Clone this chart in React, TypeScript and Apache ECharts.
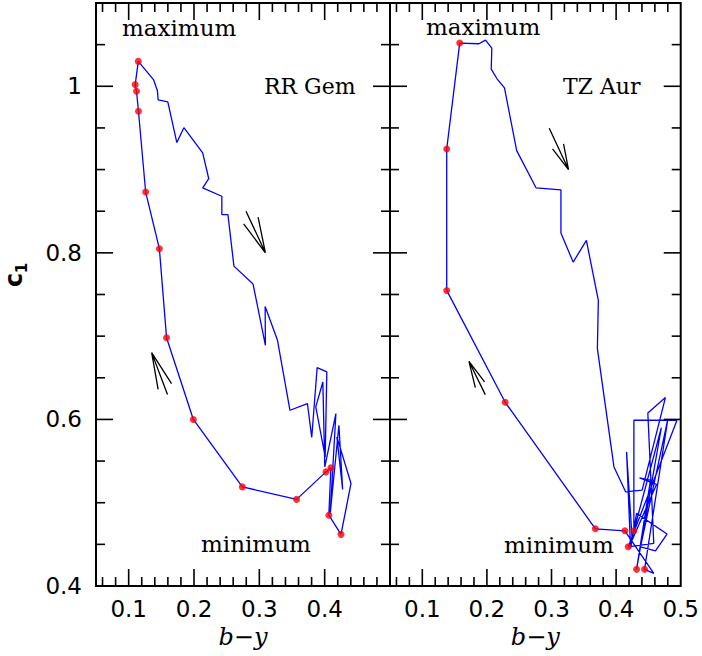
import React, { useEffect, useRef } from "react";
import * as echarts from "echarts";

// axis ranges
const X_MIN = 0.05;
const X_MAX = 0.5;
const Y_MIN = 0.4;
const Y_MAX = 1.1;

// tick positions
const X_MAJOR = [0.1, 0.2, 0.3, 0.4];
const X_MINOR = [0.06, 0.08, 0.12, 0.14, 0.16, 0.18, 0.22, 0.24, 0.26, 0.28, 0.32, 0.34, 0.36, 0.38, 0.42, 0.44, 0.46, 0.48];
const Y_MAJOR = [0.6, 0.8, 1.0];
const Y_MINOR = [0.45, 0.5, 0.55, 0.65, 0.7, 0.75, 0.85, 0.9, 0.95, 1.05];

// tick labels
const X_LABELS_LEFT = [0.1, 0.2, 0.3, 0.4];
const X_LABELS_RIGHT = [0.1, 0.2, 0.3, 0.4, 0.5];
const Y_LABELS = [0.4, 0.6, 0.8, 1.0];
const Y_LABEL_TEXT = ["0.4", "0.6", "0.8", "1"];

// RR Gem: (b-y, c1) light-curve loop
const RR_GEM_LOOP: number[][] = [
  [0.1147, 1.0299], [0.1383, 1.0076], [0.144, 0.9947], [0.1451, 0.9836], [0.1599, 0.9814],
  [0.1737, 0.9324], [0.1845, 0.9503], [0.2133, 0.9201], [0.2226, 0.889], [0.2133, 0.8781],
  [0.2426, 0.868], [0.2426, 0.846], [0.2519, 0.846], [0.2611, 0.7841], [0.2904, 0.7625],
  [0.3093, 0.689], [0.3089, 0.7357], [0.3278, 0.695], [0.3469, 0.611], [0.3736, 0.6191],
  [0.3802, 0.5783], [0.3885, 0.6622], [0.4033, 0.657], [0.4008, 0.555], [0.3864, 0.615],
  [0.3972, 0.645], [0.4002, 0.543], [0.4172, 0.6071], [0.4085, 0.4872], [0.4218, 0.593],
  [0.4275, 0.5159], [0.4187, 0.579], [0.4403, 0.5231], [0.425, 0.462], [0.4064, 0.485],
  [0.4095, 0.542], [0.402, 0.537], [0.357, 0.504], [0.274, 0.519], [0.199, 0.6],
  [0.158, 0.698], [0.147, 0.805], [0.126, 0.873], [0.115, 0.97], [0.112, 0.994],
  [0.11, 1.002], [0.1147, 1.0299],
];
const RR_GEM_POINTS: number[][] = [
  [0.1147, 1.0299], [0.11, 1.002], [0.112, 0.994], [0.115, 0.97], [0.126, 0.873],
  [0.147, 0.805], [0.158, 0.698], [0.199, 0.6], [0.274, 0.519], [0.357, 0.504],
  [0.402, 0.537], [0.4095, 0.542], [0.4064, 0.485], [0.425, 0.462],
];
const RR_GEM_ARROW_DOWN: number[][] = [[0.276, 0.8349], [0.3093, 0.8001], [0.2796, 0.85], [0.3093, 0.8001], [0.2981, 0.8428]];
const RR_GEM_ARROW_UP: number[][] = [[0.1451, 0.6362], [0.1352, 0.6802], [0.1594, 0.6299], [0.1352, 0.6802], [0.1656, 0.643]];

// TZ Aur
const TZ_AUR_LOOP: number[][] = [
  [0.1579, 1.0519], [0.1876, 1.0511], [0.1979, 1.0555], [0.2076, 1.0459], [0.2067, 1.0207],
  [0.2159, 1.0087], [0.2272, 0.998], [0.2461, 0.9228], [0.276, 0.8781], [0.3146, 0.8757],
  [0.3146, 0.8237], [0.3335, 0.7889], [0.354, 0.8149], [0.3725, 0.7429], [0.371, 0.685],
  [0.3967, 0.543], [0.4147, 0.5131], [0.4403, 0.5151], [0.4763, 0.6262], [0.4491, 0.6078],
  [0.4583, 0.4512], [0.4187, 0.4471], [0.4942, 0.599], [0.4275, 0.599], [0.4275, 0.4663],
  [0.47, 0.59], [0.4317, 0.42], [0.4532, 0.5271], [0.4363, 0.5299], [0.4625, 0.5219],
  [0.4249, 0.4552], [0.4162, 0.561], [0.4224, 0.4452], [0.4317, 0.4872], [0.4788, 0.4624],
  [0.4609, 0.4423], [0.4378, 0.4471], [0.48, 0.6], [0.444, 0.42], [0.4583, 0.4152],
  [0.4136, 0.4663], [0.3679, 0.4687], [0.2283, 0.6206], [0.1378, 0.7549], [0.1378, 0.9248],
  [0.1579, 1.0519],
];
const TZ_AUR_POINTS: number[][] = [
  [0.1579, 1.0519], [0.1378, 0.9248], [0.1378, 0.7549], [0.2283, 0.6206], [0.3679, 0.4687],
  [0.4136, 0.4663], [0.4275, 0.4663], [0.4187, 0.4471], [0.4317, 0.42], [0.444, 0.42],
];
const TZ_AUR_ARROW_DOWN: number[][] = [[0.2965, 0.9495], [0.3263, 0.9], [0.3016, 0.9248], [0.3263, 0.9], [0.3186, 0.9308]];
const TZ_AUR_ARROW_UP: number[][] = [[0.1821, 0.6382], [0.1722, 0.6698], [0.1975, 0.6298], [0.1722, 0.6698], [0.1964, 0.645]];

const SERIF = '"DejaVu Serif", serif';
const SANS = '"DejaVu Sans", sans-serif';

function tickData(): number[][] {
  const d: number[][] = [];
  X_MINOR.forEach((v) => d.push([v, 0]));
  X_MAJOR.forEach((v) => d.push([v, 1]));
  Y_MINOR.forEach((v) => d.push([v, 2]));
  Y_MAJOR.forEach((v) => d.push([v, 3]));
  return d;
}

function renderTick(params: any, api: any) {
  const v = api.value(0);
  const k = api.value(1);
  const len = k % 2 === 1 ? 17 : 9;
  const style = { stroke: "#000", lineWidth: 1.6 };
  if (k < 2) {
    const b = api.coord([v, Y_MIN]);
    const t = api.coord([v, Y_MAX]);
    return {
      type: "group",
      children: [
        { type: "line", shape: { x1: b[0], y1: b[1], x2: b[0], y2: b[1] - len }, style },
        { type: "line", shape: { x1: t[0], y1: t[1], x2: t[0], y2: t[1] + len }, style },
      ],
    };
  }
  const l = api.coord([X_MIN, v]);
  const r = api.coord([X_MAX, v]);
  return {
    type: "group",
    children: [
      { type: "line", shape: { x1: l[0], y1: l[1], x2: l[0] + len, y2: l[1] }, style },
      { type: "line", shape: { x1: r[0], y1: r[1], x2: r[0] - len, y2: r[1] }, style },
    ],
  };
}

const fmtList = (list: number[], texts?: string[]) => (v: number) => {
  const i = list.findIndex((t) => Math.abs(t - v) < 1e-6);
  if (i < 0) return "";
  return texts ? texts[i] : list[i].toFixed(1);
};

function xAxis(gridIndex: number, labels: number[]) {
  return {
    gridIndex,
    type: "value",
    min: X_MIN,
    max: X_MAX,
    interval: 0.05,
    axisLine: { show: false },
    axisTick: { show: false },
    splitLine: { show: false },
    axisLabel: { formatter: fmtList(labels), color: "#000", fontSize: 23, fontFamily: SANS, margin: 11 },
    name: "b\u2212y",
    nameLocation: "middle",
    nameGap: 38,
    nameTextStyle: { color: "#000", fontSize: 24, fontFamily: SERIF, fontStyle: "italic" },
  };
}

function yAxis(gridIndex: number, showLabels: boolean) {
  return {
    gridIndex,
    type: "value",
    min: Y_MIN,
    max: Y_MAX,
    interval: 0.2,
    axisLine: { show: false },
    axisTick: { show: false },
    splitLine: { show: false },
    axisLabel: {
      show: showLabels,
      formatter: fmtList(Y_LABELS, Y_LABEL_TEXT),
      color: "#000",
      fontSize: 23,
      fontFamily: SANS,
      margin: 14,
    },
  };
}

function panelSeries(idx: number, loop: number[][], pts: number[][], arrows: number[][][]) {
  const base = { xAxisIndex: idx, yAxisIndex: idx };
  const s: any[] = [
    {
      ...base,
      type: "line",
      data: loop,
      symbol: "none",
      lineStyle: { color: "#0000ff", width: 1.3 },
      z: 3,
      silent: true,
    },
    {
      ...base,
      type: "scatter",
      data: pts,
      symbol: "circle",
      symbolSize: 7,
      itemStyle: { color: "#ff0000" },
      z: 4,
      silent: true,
    },
    {
      ...base,
      type: "custom",
      data: tickData(),
      renderItem: renderTick,
      z: 5,
      silent: true,
    },
  ];
  arrows.forEach((a) =>
    s.push({
      ...base,
      type: "line",
      data: a,
      symbol: "none",
      lineStyle: { color: "#000", width: 1.3 },
      z: 3,
      silent: true,
    })
  );
  return s;
}

function txt(text: string, x: number, y: number, size = 23) {
  return {
    type: "text",
    x,
    y,
    z: 10,
    style: {
      text,
      fill: "#000",
      font: `${size}px ${SERIF}`,
      textAlign: "left",
      textVerticalAlign: "middle",
      align: "left",
      verticalAlign: "middle",
    },
  };
}

export default function App() {
  const ref = useRef<HTMLDivElement>(null);
  useEffect(() => {
    if (!ref.current) return;
    const chart = echarts.init(ref.current, undefined, { renderer: "svg" });
    const option: any = {
      animation: false,
      backgroundColor: "#fff",
      grid: [
        { left: 96, top: 3, width: 294, height: 583, show: true, borderColor: "#000", borderWidth: 2 },
        { left: 390, top: 3, width: 293, height: 583, show: true, borderColor: "#000", borderWidth: 2 },
      ],
      xAxis: [xAxis(0, X_LABELS_LEFT), xAxis(1, X_LABELS_RIGHT)],
      yAxis: [yAxis(0, true), yAxis(1, false)],
      series: [
        ...panelSeries(0, RR_GEM_LOOP, RR_GEM_POINTS, [RR_GEM_ARROW_DOWN, RR_GEM_ARROW_UP]),
        ...panelSeries(1, TZ_AUR_LOOP, TZ_AUR_POINTS, [TZ_AUR_ARROW_DOWN, TZ_AUR_ARROW_UP]),
      ],
      graphic: [
        txt("maximum", 122, 28),
        txt("maximum", 426, 27),
        txt("minimum", 201, 544),
        txt("minimum", 504, 545),
        txt("RR Gem", 264, 86, 22),
        txt("TZ Aur", 563, 86, 22),
        {
          type: "text",
          x: 14,
          y: 280,
          rotation: Math.PI / 2,
          z: 10,
          style: {
            text: "c",
            fill: "#000",
            font: `bold 24px ${SANS}`,
            textAlign: "center",
            textVerticalAlign: "middle",
            align: "center",
            verticalAlign: "middle",
          },
        },
        {
          type: "text",
          x: 22,
          y: 268,
          rotation: Math.PI / 2,
          z: 10,
          style: {
            text: "1",
            fill: "#000",
            font: `bold 15px ${SANS}`,
            textAlign: "center",
            textVerticalAlign: "middle",
            align: "center",
            verticalAlign: "middle",
          },
        },
      ],
    };
    chart.setOption(option);
    return () => chart.dispose();
  }, []);
  return <div ref={ref} style={{ position: "fixed", left: 0, top: 0, width: 702, height: 656, background: "#fff" }} />;
}
